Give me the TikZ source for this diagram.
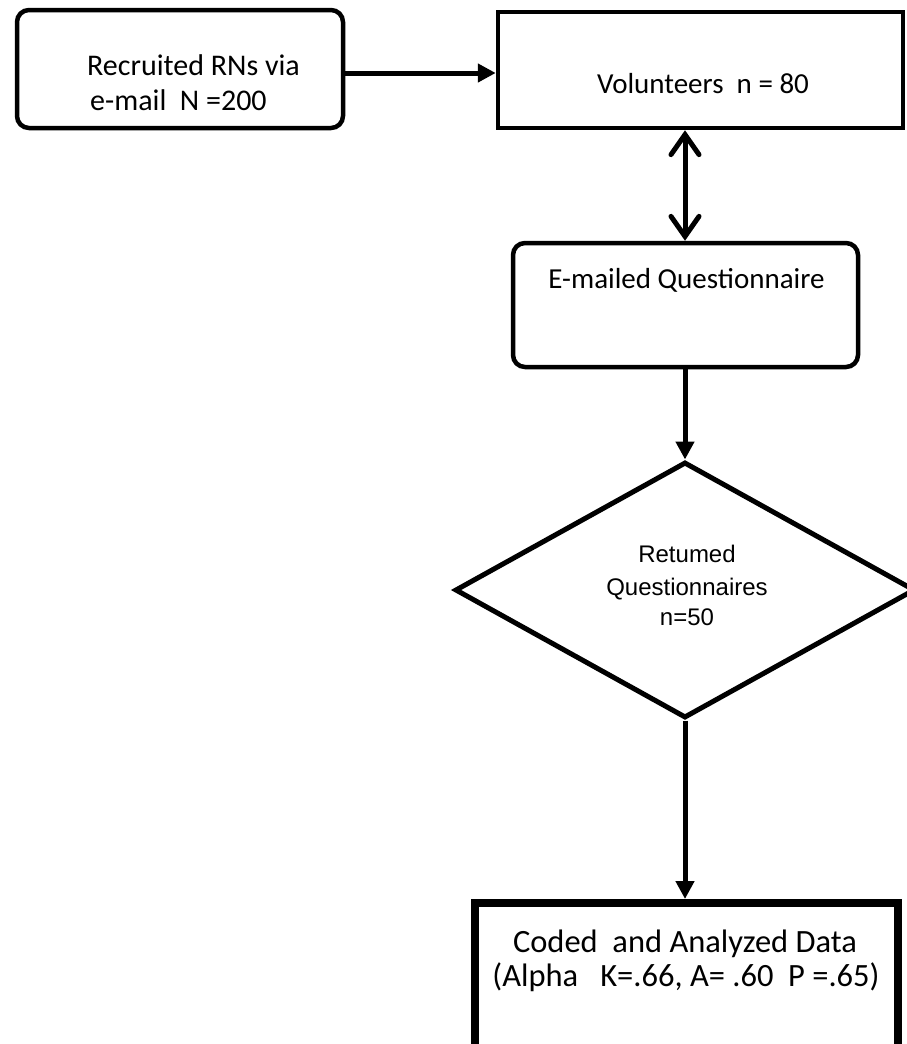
\documentclass[tikz,border=0pt]{standalone}
\usepackage{fontspec}
\setmainfont{Carlito}
\newfontfamily\arialf{Liberation Sans}
\usetikzlibrary{arrows.meta,shapes.geometric}
\tikzset{
  box/.style={draw=black, line width=4.5pt, fill=white, inner sep=0pt},
  rbox/.style={box, rounded corners=12pt},
  txt/.style={inner sep=0pt, font=\fontsize{29}{36}\selectfont},
  dtxt/.style={inner sep=0pt, font=\arialf\fontsize{24}{32}\selectfont},
  ftri/.style={-{Triangle[length=18pt,width=18pt]}, line width=5pt},
  vline/.style={{Straight Barb[length=20pt,width=28pt,line cap=round]}-{Straight Barb[length=20pt,width=28pt,line cap=round]}, line width=5pt}
}
\begin{document}
\begin{tikzpicture}[x=1pt,y=-1pt]
\useasboundingbox (0,0) rectangle (907,1044);
\clip (0,0) rectangle (907,1044);
\fill[white] (0,0) rectangle (907,1044);
% shapes
\node[rbox, minimum width=326pt, minimum height=118pt] (b1) at (180,69) {};
\node[box, minimum width=405pt, minimum height=116pt] (b2) at (700.5,70) {};
\node[rbox, minimum width=345pt, minimum height=124pt] (b3) at (685.5,305) {};
\node[draw=black, line width=5pt, diamond, aspect=1.797, minimum width=460pt, minimum height=256pt, inner sep=0pt] (d) at (685,590) {};
\node[box, line width=8pt, minimum width=423pt, minimum height=180pt] (b5) at (686.5,993) {};
% texts
\node[txt, font=\fontsize{30}{36}\selectfont, anchor=base west] (t1a) at (87,75) {Recruited RNs via};
\node[txt, font=\fontsize{30}{36}\selectfont, anchor=base west] (t1b) at (90,110) {e-mail\ \ N =200};
\node[txt, anchor=base] (t2) at (703,93) {Volunteers\ \ n = 80};
\node[txt, anchor=base] (t3) at (686.5,288) {E-mailed Questionnaire};
\node[dtxt, anchor=base] (t4a) at (687,562) {Retumed};
\node[dtxt, anchor=base] (t4b) at (687,595) {Questionnaires};
\node[dtxt, anchor=base] (t4c) at (687,625) {n=50};
\node[txt, font=\fontsize{32.5}{38}\selectfont, anchor=base] (t5a) at (685,952) {Coded\ \ and Analyzed Data};
\node[txt, font=\fontsize{32.5}{38}\selectfont, anchor=base] (t5b) at (686,986) {(Alpha\ \ \ K=.66, A=\ .60\ \ P =.65)};
% connectors
\draw[ftri] (b1.east |- 0,73) -- (b2.west |- 0,73);
\draw[vline] (685,0 |- b2.south) -- (685,0 |- b3.north);
\draw[ftri] (b3.south -| d.north) -- (d.north);
\draw[ftri] (d.south) -- (d.south |- b5.north);
\end{tikzpicture}
\end{document}
